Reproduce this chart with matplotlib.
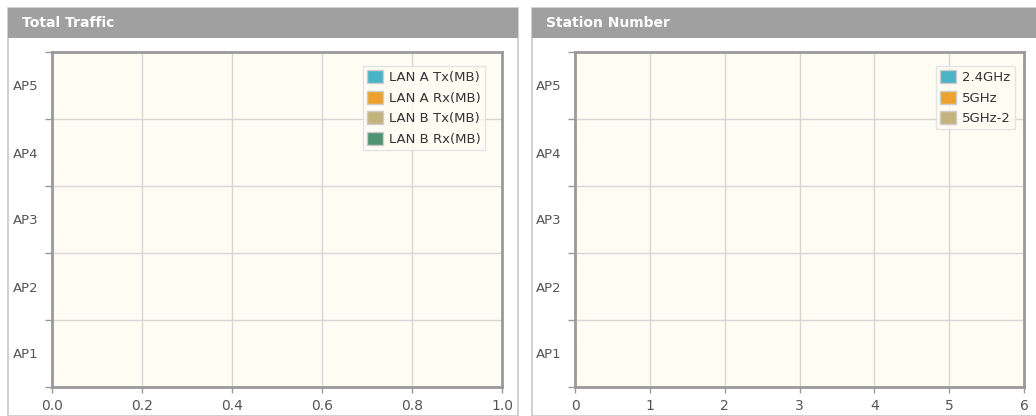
import numpy as np
import matplotlib.pyplot as plt
from matplotlib.patches import Rectangle

# datos
aps = ['AP1', 'AP2', 'AP3', 'AP4', 'AP5']
traffic_series = ['LAN A Tx(MB)', 'LAN A Rx(MB)', 'LAN B Tx(MB)', 'LAN B Rx(MB)']
lan_a_tx = [0, 0, 0, 0, 0]
lan_a_rx = [0, 0, 0, 0, 0]
lan_b_tx = [0, 0, 0, 0, 0]
lan_b_rx = [0, 0, 0, 0, 0]
station_series = ['2.4GHz', '5GHz', '5GHz-2']
sta_24 = [0, 0, 0, 0, 0]
sta_5 = [0, 0, 0, 0, 0]
sta_5_2 = [0, 0, 0, 0, 0]
traffic_ticks = [0.0, 0.2, 0.4, 0.6, 0.8, 1.0]
station_ticks = [0, 1, 2, 3, 4, 5, 6]

traffic_colors = ['#4ab3c5', '#eea22e', '#c5b37e', '#4f9372']
station_colors = ['#4ab3c5', '#eea22e', '#c5b37e']

W, H = 1036, 416
fig = plt.figure(figsize=(W / 100, H / 100), dpi=100)
fig.patch.set_facecolor('white')


def px(x, y, w, h):
    return [x / W, 1 - (y + h) / H, w / W, h / H]


def panel(x0, x1, title):
    fig.patches.append(Rectangle((x0 / W, 0), (x1 - x0) / W, 1 - 8 / H,
                                 transform=fig.transFigure, facecolor='white',
                                 edgecolor='#c8c8c8', lw=1.2, zorder=-2))
    fig.patches.append(Rectangle((x0 / W, 1 - 38 / H), (x1 - x0) / W, 30 / H,
                                 transform=fig.transFigure, facecolor='#a0a0a0',
                                 edgecolor='none', zorder=-1))
    fig.text((x0 + 14) / W, 1 - 23 / H, title, color='white', fontsize=10,
             fontweight='bold', va='center', ha='left')


def hbar_chart(ax, series, values, colors, ticks, fmt, leg_x):
    ax.set_zorder(5)
    y = np.arange(len(aps))
    n = len(series)
    h = 0.8 / n
    for i, (name, vals, c) in enumerate(zip(series, values, colors)):
        ax.barh(y - 0.4 + h * (i + 0.5), vals, height=h, color=c,
                edgecolor=c, label=name)
    ax.set_facecolor('#fffcf4')
    ax.set_xlim(ticks[0], ticks[-1])
    ax.set_ylim(-0.5, len(aps) - 0.5)
    ax.set_xticks(ticks)
    ax.set_xticklabels([fmt.format(t) for t in ticks])
    ax.set_yticks(y)
    ax.set_yticklabels(aps)
    ax.set_yticks(np.arange(-0.5, len(aps)), minor=True)
    ax.tick_params(axis='y', which='major', length=0, pad=10,
                   labelsize=9.5, labelcolor='#555555')
    ax.tick_params(axis='y', which='minor', length=5, color='#999999', width=1)
    ax.tick_params(axis='x', length=4, color='#999999', width=1,
                   labelsize=10, labelcolor='#555555', pad=5)
    ax.grid(True, axis='x', which='major', color='#d6d6d6', lw=1)
    ax.grid(True, axis='y', which='minor', color='#d6d6d6', lw=1)
    ax.set_axisbelow(True)
    for s in ax.spines.values():
        s.set_color('#9a9a9a')
        s.set_linewidth(2)
    leg = ax.legend(loc='upper right', bbox_to_anchor=(leg_x, 0.958),
                    fontsize=9.5, frameon=True, fancybox=False,
                    edgecolor='#dddddd', handlelength=1.2, handleheight=1.15,
                    handletextpad=0.5, borderpad=0.3, labelspacing=0.5,
                    borderaxespad=0)
    leg.get_frame().set_facecolor('#fffcf4')
    for hnd in leg.legend_handles:
        hnd.set_edgecolor('#cccccc')
    for t in leg.get_texts():
        t.set_color('#333333')


panel(8, 518, 'Total Traffic')
panel(532, 1040, 'Station Number')

ax1 = fig.add_axes(px(52, 52, 450, 335))
hbar_chart(ax1, traffic_series, [lan_a_tx, lan_a_rx, lan_b_tx, lan_b_rx],
           traffic_colors, traffic_ticks, '{:.1f}', 0.962)

ax2 = fig.add_axes(px(575, 52, 449, 335))
hbar_chart(ax2, station_series, [sta_24, sta_5, sta_5_2],
           station_colors, station_ticks, '{:d}', 0.98)

fig.savefig('out.png', dpi=100)
